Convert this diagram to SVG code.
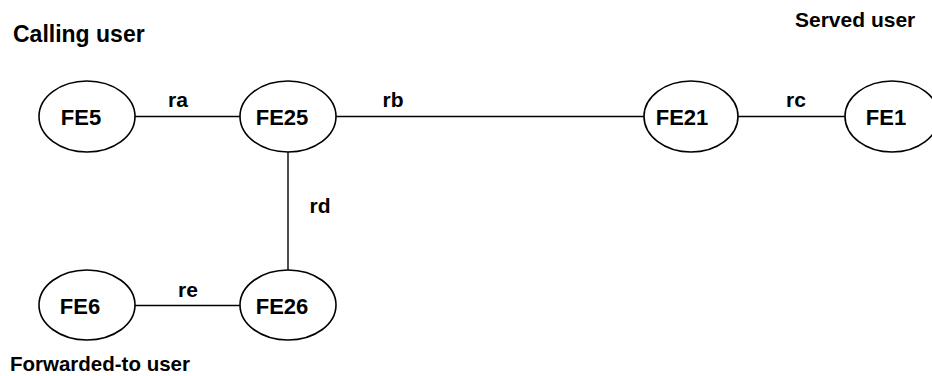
<svg xmlns="http://www.w3.org/2000/svg" width="932" height="376" viewBox="0 0 932 376">
<style>
.n{fill:#fff;stroke:#000;stroke-width:1.6}
.c{stroke:#000;stroke-width:1.4;fill:none}
text{font-family:"Liberation Sans",Arial,sans-serif;font-weight:bold;fill:#000}
.t{font-size:22px;text-anchor:middle}
.l{font-size:21px;text-anchor:middle}
.h{font-size:21px}
</style>
<rect width="932" height="376" fill="#fff"/>
<g id="connectors">
<line class="c" x1="135" y1="116.5" x2="240" y2="116.5"/>
<line class="c" x1="336" y1="116.5" x2="644" y2="116.5"/>
<line class="c" x1="738" y1="116.5" x2="845" y2="116.5"/>
<line class="c" x1="288" y1="152" x2="288" y2="270"/>
<line class="c" x1="135" y1="305.5" x2="240" y2="305.5"/>
<text class="l" x="178" y="107">ra</text>
<text class="l" x="393" y="107">rb</text>
<text class="l" x="796" y="107">rc</text>
<text class="l" x="320" y="213">rd</text>
<text class="l" x="188" y="297">re</text>
</g>
<g id="FE5"><ellipse class="n" cx="87" cy="116.5" rx="48" ry="35.5"/><text class="t" x="81" y="125">FE5</text></g>
<g id="FE25"><ellipse class="n" cx="288" cy="116.5" rx="48" ry="35.5"/><text class="t" x="282" y="125">FE25</text></g>
<g id="FE21"><ellipse class="n" cx="691" cy="116.5" rx="47" ry="35.5"/><text class="t" x="682" y="125">FE21</text></g>
<g id="FE1"><ellipse class="n" cx="892" cy="116.5" rx="47" ry="35.5"/><text class="t" x="886" y="125">FE1</text></g>
<g id="FE26"><ellipse class="n" cx="288" cy="305" rx="48" ry="35"/><text class="t" x="282" y="313.5">FE26</text></g>
<g id="FE6"><ellipse class="n" cx="87" cy="305" rx="48" ry="35"/><text class="t" x="80" y="313.5">FE6</text></g>
<text class="h" x="13" y="42" style="font-size:23px">Calling user</text>
<text class="h" x="795" y="27">Served user</text>
<text class="h" x="10" y="371" style="font-size:20.5px">Forwarded-to user</text>
</svg>
